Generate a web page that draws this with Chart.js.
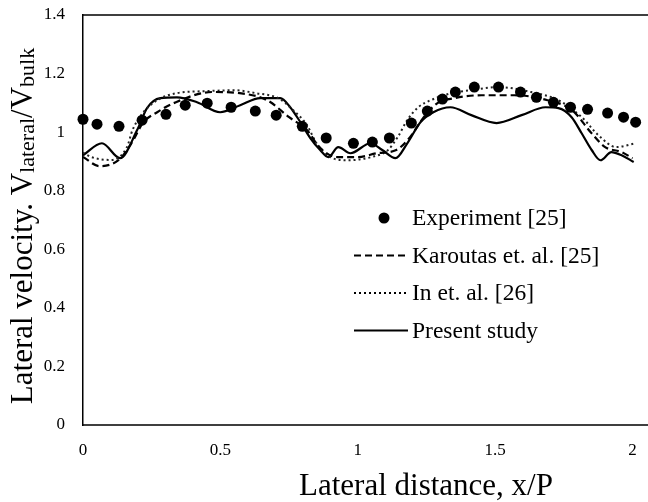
<!DOCTYPE html>
<html>
<head>
<meta charset="utf-8">
<script src="https://cdn.jsdelivr.net/npm/chart.js@4/dist/chart.umd.min.js"></script>
<style>
  html, body { margin: 0; padding: 0; background: #fff; }
  #chart { display: block; }
</style>
</head>
<body>
<canvas id="chart" width="648" height="502"></canvas>
<script>
// experiment points
const expX = [0, 0.051, 0.131, 0.215, 0.302, 0.372, 0.452, 0.539, 0.627, 0.703, 0.798, 0.885, 0.984, 1.053, 1.115, 1.195, 1.253, 1.308, 1.355, 1.424, 1.512, 1.592, 1.65, 1.712, 1.774, 1.836, 1.909, 1.967, 2.011];
const expY = [1.044, 1.027, 1.02, 1.041, 1.061, 1.092, 1.099, 1.085, 1.072, 1.058, 1.02, 0.98, 0.962, 0.966, 0.98, 1.031, 1.072, 1.113, 1.137, 1.154, 1.154, 1.137, 1.119, 1.102, 1.085, 1.078, 1.065, 1.051, 1.034];

// Karoutas et al. (dashed)
const karX = [0, 0.06, 0.13, 0.175, 0.22, 0.27, 0.33, 0.47, 0.57, 0.67, 0.75, 0.815, 0.86, 0.925, 1.0, 1.07, 1.14, 1.19, 1.24, 1.29, 1.35, 1.45, 1.57, 1.69, 1.78, 1.85, 1.9, 1.96, 2.0];
const karY = [0.915, 0.884, 0.905, 0.96, 1.034, 1.068, 1.099, 1.137, 1.133, 1.109, 1.051, 1.007, 0.949, 0.915, 0.915, 0.928, 0.939, 0.983, 1.051, 1.099, 1.116, 1.126, 1.126, 1.109, 1.075, 0.997, 0.949, 0.932, 0.911];

// In et al. (dotted)
const inX = [0, 0.03, 0.1, 0.16, 0.18, 0.22, 0.27, 0.34, 0.45, 0.55, 0.63, 0.71, 0.765, 0.815, 0.85, 0.9, 0.96, 1.05, 1.11, 1.145, 1.18, 1.22, 1.265, 1.34, 1.41, 1.51, 1.63, 1.73, 1.815, 1.875, 1.94, 2.01];
const inY = [0.93, 0.915, 0.905, 0.949, 1.007, 1.068, 1.109, 1.133, 1.14, 1.143, 1.133, 1.116, 1.075, 1.024, 0.962, 0.915, 0.904, 0.915, 0.939, 0.983, 1.041, 1.085, 1.109, 1.133, 1.143, 1.154, 1.137, 1.109, 1.051, 0.99, 0.949, 0.962];

// present study (solid)
const presX = [0, 0.069, 0.135, 0.197, 0.233, 0.281, 0.342, 0.415, 0.499, 0.572, 0.645, 0.718, 0.754, 0.791, 0.827, 0.863, 0.893, 0.929, 0.973, 1.046, 1.089, 1.137, 1.18, 1.228, 1.275, 1.337, 1.413, 1.505, 1.596, 1.683, 1.73, 1.778, 1.814, 1.851, 1.883, 1.923, 1.96, 2.004];
const presY = [0.921, 0.962, 0.911, 1.007, 1.082, 1.116, 1.119, 1.102, 1.068, 1.092, 1.116, 1.116, 1.085, 1.034, 0.98, 0.939, 0.915, 0.949, 0.928, 0.962, 0.939, 0.911, 0.962, 1.034, 1.068, 1.085, 1.058, 1.031, 1.058, 1.085, 1.082, 1.051, 0.997, 0.939, 0.904, 0.932, 0.921, 0.898];

const seriesNames = ['Experiment [25]', 'Karoutas et. al. [25]', 'In et. al. [26]', 'Present study'];
const xTicks = [0, 0.5, 1, 1.5, 2];
const yTicks = [0, 0.2, 0.4, 0.6, 0.8, 1, 1.2, 1.4];

const pts = (xs, ys) => xs.map((x, i) => ({ x: x, y: ys[i] }));
const fmt = v => String(+v.toFixed(1));
const SERIF = "'Liberation Serif', 'Times New Roman', serif";

// frame top/bottom, legend and axis titles
const decor = {
  id: 'decor',
  afterDraw(chart) {
    const ctx = chart.ctx;
    const a = chart.chartArea;
    ctx.save();
    ctx.strokeStyle = '#000';
    ctx.lineWidth = 1.5;
    ctx.beginPath();
    ctx.moveTo(a.left, a.top);
    ctx.lineTo(chart.width, a.top);
    ctx.moveTo(a.left, a.bottom);
    ctx.lineTo(chart.width, a.bottom);
    ctx.stroke();

    // legend
    const lx = 354, lw = 54, tx = 412, row0 = 218, step = 37.5;
    ctx.font = '23.5px ' + SERIF;
    ctx.fillStyle = '#000';
    ctx.textBaseline = 'alphabetic';
    chart.data.datasets.forEach((ds, i) => {
      const y = row0 + i * step;
      if (ds.showLine === false) {
        ctx.beginPath();
        ctx.arc(lx + 30, y, ds.pointRadius, 0, Math.PI * 2);
        ctx.fill();
      } else {
        ctx.beginPath();
        ctx.setLineDash(ds.borderDash || []);
        ctx.lineWidth = ds.borderWidth;
        ctx.moveTo(lx, y);
        ctx.lineTo(lx + lw, y);
        ctx.stroke();
        ctx.setLineDash([]);
      }
      ctx.fillText(ds.label, tx, y + 7);
    });

    // x title
    ctx.textAlign = 'center';
    ctx.font = '31px ' + SERIF;
    ctx.fillText('Lateral distance, x/P', 426, 495);

    // y title with subscripts
    const parts = [
      ['Lateral velocity. V', 31, 0],
      ['lateral', 22, 2],
      ['/V', 31, 0],
      ['bulk', 22, 2]
    ];
    let total = 0;
    parts.forEach(p => { ctx.font = p[1] + 'px ' + SERIF; total += ctx.measureText(p[0]).width; });
    ctx.translate(32, 226);
    ctx.rotate(-Math.PI / 2);
    ctx.textAlign = 'left';
    let cx = -total / 2;
    parts.forEach(p => {
      ctx.font = p[1] + 'px ' + SERIF;
      ctx.fillText(p[0], cx, p[2]);
      cx += ctx.measureText(p[0]).width;
    });
    ctx.restore();
  }
};

new Chart(document.getElementById('chart'), {
  type: 'line',
  data: {
    datasets: [
      {
        label: seriesNames[0],
        data: pts(expX, expY),
        showLine: false,
        pointRadius: 5.5,
        pointBackgroundColor: '#000',
        pointBorderWidth: 0,
        borderColor: '#000',
        clip: false
      },
      {
        label: seriesNames[1],
        data: pts(karX, karY),
        borderColor: '#000',
        borderWidth: 2.2,
        borderDash: [7, 4],
        pointRadius: 0,
        cubicInterpolationMode: 'monotone'
      },
      {
        label: seriesNames[2],
        data: pts(inX, inY),
        borderColor: '#222',
        borderWidth: 2,
        borderDash: [2, 3],
        pointRadius: 0,
        cubicInterpolationMode: 'monotone'
      },
      {
        label: seriesNames[3],
        data: pts(presX, presY),
        borderColor: '#000',
        borderWidth: 2.2,
        pointRadius: 0,
        cubicInterpolationMode: 'monotone'
      }
    ]
  },
  options: {
    responsive: false,
    animation: false,
    devicePixelRatio: 1,
    layout: { padding: { top: 15, right: 0, left: 0, bottom: 0 } },
    plugins: { legend: { display: false }, tooltip: { enabled: false } },
    scales: {
      x: {
        type: 'linear',
        min: 0,
        max: 2.036,
        afterFit: s => { s.height = 77; s.paddingLeft = 0; s.paddingRight = 0; },
        afterBuildTicks: s => { s.ticks = xTicks.map(v => ({ value: v })); },
        grid: { display: false, drawTicks: false },
        border: { display: false },
        ticks: { padding: 15, color: '#000', font: { family: SERIF, size: 17 }, maxRotation: 0, callback: fmt }
      },
      y: {
        min: 0,
        max: 1.4,
        afterFit: s => { s.width = 83; s.paddingTop = 0; s.paddingBottom = 0; },
        afterBuildTicks: s => { s.ticks = yTicks.map(v => ({ value: v })); },
        grid: { display: false, drawTicks: false },
        border: { display: true, color: '#000', width: 1.5 },
        ticks: { padding: 18, color: '#000', font: { family: SERIF, size: 17 }, callback: fmt }
      }
    }
  },
  plugins: [decor]
});
</script>
</body>
</html>
